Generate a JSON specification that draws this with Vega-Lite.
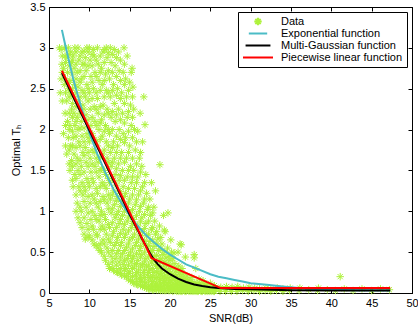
{
"$schema":"https://vega.github.io/schema/vega-lite/v6.json",
"width":363,"height":286,
"autosize":"none",
"padding":{"left":49,"top":7,"right":6,"bottom":34},
"background":"#ffffff",
"config":{
 "view":{"stroke":"#000","strokeWidth":1},
 "font":"Liberation Sans",
 "axis":{"domainColor":"#000","tickColor":"#000","labelColor":"#000","titleColor":"#000","labelFont":"Liberation Sans","titleFont":"Liberation Sans","labelFontSize":11,"titleFontSize":11,"titleFontWeight":"normal","tickSize":-4,"grid":false,"labelPadding":8,"labelFlush":false,"labelOverlap":false},
 "legend":{"orient":"top-right","offset":5,"strokeColor":"#000","fillColor":"#fff","padding":4,"labelFont":"Liberation Sans","labelFontSize":11,"labelColor":"#000","rowPadding":0,"symbolStrokeWidth":2,"labelOffset":7,"cornerRadius":0,"clipHeight":11}
},
"datasets":{
"pts":[
{"s":"Data","x":6.4,"y":2.45},{"s":"Data","x":6.5,"y":2.62},{"s":"Data","x":6.6,"y":2.8},{"s":"Data","x":6.5,"y":2.98},{"s":"Data","x":6.3,"y":3.0},
{"s":"Data","x":6.8,"y":1.95},{"s":"Data","x":7.0,"y":2.2},{"s":"Data","x":6.9,"y":2.55},{"s":"Data","x":6.8,"y":2.75},{"s":"Data","x":7.0,"y":2.9},{"s":"Data","x":6.9,"y":3.0},
{"s":"Data","x":7.2,"y":1.7},{"s":"Data","x":7.4,"y":1.9},{"s":"Data","x":7.3,"y":2.1},{"s":"Data","x":7.2,"y":2.35},{"s":"Data","x":7.4,"y":2.5},{"s":"Data","x":7.3,"y":2.7},{"s":"Data","x":7.2,"y":2.88},{"s":"Data","x":7.4,"y":3.0},
{"s":"Data","x":7.6,"y":1.5},{"s":"Data","x":7.8,"y":1.62},{"s":"Data","x":7.7,"y":1.8},{"s":"Data","x":7.6,"y":2.05},{"s":"Data","x":7.8,"y":2.25},{"s":"Data","x":7.7,"y":2.45},{"s":"Data","x":7.6,"y":2.6},{"s":"Data","x":7.8,"y":2.82},{"s":"Data","x":7.7,"y":2.95},
{"s":"Data","x":8.0,"y":1.3},{"s":"Data","x":8.2,"y":1.45},{"s":"Data","x":8.1,"y":1.7},{"s":"Data","x":8.0,"y":1.9},{"s":"Data","x":8.2,"y":2.05},{"s":"Data","x":8.1,"y":2.2},{"s":"Data","x":8.0,"y":2.4},{"s":"Data","x":8.2,"y":2.55},{"s":"Data","x":8.1,"y":2.75},{"s":"Data","x":8.0,"y":2.9},{"s":"Data","x":8.2,"y":3.0},
{"s":"Data","x":8.6,"y":0.92},{"s":"Data","x":8.5,"y":1.1},{"s":"Data","x":8.7,"y":1.3},{"s":"Data","x":8.6,"y":1.5},{"s":"Data","x":8.5,"y":1.65},{"s":"Data","x":8.7,"y":1.85},{"s":"Data","x":8.6,"y":2.0},{"s":"Data","x":8.5,"y":2.15},{"s":"Data","x":8.7,"y":2.35},{"s":"Data","x":8.6,"y":2.52},{"s":"Data","x":8.5,"y":2.7},{"s":"Data","x":8.7,"y":2.85},{"s":"Data","x":8.6,"y":3.0},
{"s":"Data","x":9.1,"y":0.8},{"s":"Data","x":9.0,"y":1.0},{"s":"Data","x":9.2,"y":1.2},{"s":"Data","x":9.1,"y":1.35},{"s":"Data","x":9.0,"y":1.55},{"s":"Data","x":9.2,"y":1.72},{"s":"Data","x":9.1,"y":1.92},{"s":"Data","x":9.0,"y":2.1},{"s":"Data","x":9.2,"y":2.3},{"s":"Data","x":9.1,"y":2.48},{"s":"Data","x":9.0,"y":2.62},{"s":"Data","x":9.2,"y":2.8},{"s":"Data","x":9.1,"y":2.95},
{"s":"Data","x":9.5,"y":0.66},{"s":"Data","x":9.7,"y":0.85},{"s":"Data","x":9.6,"y":1.05},{"s":"Data","x":9.5,"y":1.25},{"s":"Data","x":9.7,"y":1.4},{"s":"Data","x":9.6,"y":1.6},{"s":"Data","x":9.5,"y":1.78},{"s":"Data","x":9.7,"y":1.95},{"s":"Data","x":9.6,"y":2.18},{"s":"Data","x":9.5,"y":2.4},{"s":"Data","x":9.7,"y":2.55},{"s":"Data","x":9.6,"y":2.72},{"s":"Data","x":9.5,"y":2.88},{"s":"Data","x":9.7,"y":3.0},
{"s":"Data","x":10.0,"y":0.7},{"s":"Data","x":10.2,"y":0.9},{"s":"Data","x":10.1,"y":1.1},{"s":"Data","x":10.0,"y":1.3},{"s":"Data","x":10.2,"y":1.48},{"s":"Data","x":10.1,"y":1.65},{"s":"Data","x":10.0,"y":1.85},{"s":"Data","x":10.2,"y":2.05},{"s":"Data","x":10.1,"y":2.25},{"s":"Data","x":10.0,"y":2.45},{"s":"Data","x":10.2,"y":2.65},{"s":"Data","x":10.1,"y":2.85},{"s":"Data","x":10.0,"y":3.0},
{"s":"Data","x":10.6,"y":0.6},{"s":"Data","x":10.5,"y":0.78},{"s":"Data","x":10.7,"y":0.95},{"s":"Data","x":10.6,"y":1.15},{"s":"Data","x":10.5,"y":1.35},{"s":"Data","x":10.7,"y":1.55},{"s":"Data","x":10.6,"y":1.72},{"s":"Data","x":10.5,"y":1.9},{"s":"Data","x":10.7,"y":2.1},{"s":"Data","x":10.6,"y":2.28},{"s":"Data","x":10.5,"y":2.5},{"s":"Data","x":10.7,"y":2.7},{"s":"Data","x":10.6,"y":2.9},{"s":"Data","x":10.5,"y":2.98},
{"s":"Data","x":11.1,"y":0.55},{"s":"Data","x":11.0,"y":0.7},{"s":"Data","x":11.2,"y":0.88},{"s":"Data","x":11.1,"y":1.05},{"s":"Data","x":11.0,"y":1.22},{"s":"Data","x":11.2,"y":1.42},{"s":"Data","x":11.1,"y":1.6},{"s":"Data","x":11.0,"y":1.8},{"s":"Data","x":11.2,"y":2.0},{"s":"Data","x":11.1,"y":2.2},{"s":"Data","x":11.0,"y":2.38},{"s":"Data","x":11.2,"y":2.6},{"s":"Data","x":11.1,"y":2.8},{"s":"Data","x":11.0,"y":3.0},
{"s":"Data","x":11.5,"y":0.5},{"s":"Data","x":11.7,"y":0.65},{"s":"Data","x":11.6,"y":0.82},{"s":"Data","x":11.5,"y":1.0},{"s":"Data","x":11.7,"y":1.18},{"s":"Data","x":11.6,"y":1.35},{"s":"Data","x":11.5,"y":1.52},{"s":"Data","x":11.7,"y":1.7},{"s":"Data","x":11.6,"y":1.92},{"s":"Data","x":11.5,"y":2.12},{"s":"Data","x":11.7,"y":2.3},{"s":"Data","x":11.6,"y":2.55},{"s":"Data","x":11.5,"y":2.75},{"s":"Data","x":11.7,"y":2.95},
{"s":"Data","x":12.0,"y":0.4},{"s":"Data","x":12.2,"y":0.55},{"s":"Data","x":12.1,"y":0.72},{"s":"Data","x":12.0,"y":0.9},{"s":"Data","x":12.2,"y":1.1},{"s":"Data","x":12.1,"y":1.28},{"s":"Data","x":12.0,"y":1.45},{"s":"Data","x":12.2,"y":1.65},{"s":"Data","x":12.1,"y":1.85},{"s":"Data","x":12.0,"y":2.05},{"s":"Data","x":12.2,"y":2.25},{"s":"Data","x":12.1,"y":2.48},{"s":"Data","x":12.0,"y":2.68},{"s":"Data","x":12.2,"y":2.88},{"s":"Data","x":12.1,"y":3.0},
{"s":"Data","x":12.5,"y":0.3},{"s":"Data","x":12.7,"y":0.45},{"s":"Data","x":12.6,"y":0.62},{"s":"Data","x":12.5,"y":0.8},{"s":"Data","x":12.7,"y":0.98},{"s":"Data","x":12.6,"y":1.15},{"s":"Data","x":12.5,"y":1.35},{"s":"Data","x":12.7,"y":1.55},{"s":"Data","x":12.6,"y":1.72},{"s":"Data","x":12.5,"y":1.95},{"s":"Data","x":12.7,"y":2.15},{"s":"Data","x":12.6,"y":2.4},{"s":"Data","x":12.5,"y":2.62},{"s":"Data","x":12.7,"y":2.82},{"s":"Data","x":12.6,"y":3.0},
{"s":"Data","x":13.0,"y":0.28},{"s":"Data","x":13.2,"y":0.42},{"s":"Data","x":13.1,"y":0.58},{"s":"Data","x":13.0,"y":0.75},{"s":"Data","x":13.2,"y":0.92},{"s":"Data","x":13.1,"y":1.08},{"s":"Data","x":13.0,"y":1.25},{"s":"Data","x":13.2,"y":1.45},{"s":"Data","x":13.1,"y":1.65},{"s":"Data","x":13.0,"y":1.85},{"s":"Data","x":13.2,"y":2.1},{"s":"Data","x":13.1,"y":2.32},{"s":"Data","x":13.0,"y":2.55},{"s":"Data","x":13.2,"y":2.78},{"s":"Data","x":13.1,"y":2.98},
{"s":"Data","x":13.5,"y":0.25},{"s":"Data","x":13.7,"y":0.38},{"s":"Data","x":13.6,"y":0.52},{"s":"Data","x":13.5,"y":0.68},{"s":"Data","x":13.7,"y":0.85},{"s":"Data","x":13.6,"y":1.0},{"s":"Data","x":13.5,"y":1.18},{"s":"Data","x":13.7,"y":1.38},{"s":"Data","x":13.6,"y":1.58},{"s":"Data","x":13.5,"y":1.8},{"s":"Data","x":13.7,"y":2.0},{"s":"Data","x":13.6,"y":2.25},{"s":"Data","x":13.5,"y":2.5},{"s":"Data","x":13.7,"y":2.72},{"s":"Data","x":13.6,"y":2.95},
{"s":"Data","x":14.0,"y":0.22},{"s":"Data","x":14.2,"y":0.35},{"s":"Data","x":14.1,"y":0.48},{"s":"Data","x":14.0,"y":0.62},{"s":"Data","x":14.2,"y":0.78},{"s":"Data","x":14.1,"y":0.95},{"s":"Data","x":14.0,"y":1.12},{"s":"Data","x":14.2,"y":1.3},{"s":"Data","x":14.1,"y":1.5},{"s":"Data","x":14.0,"y":1.72},{"s":"Data","x":14.2,"y":1.95},{"s":"Data","x":14.1,"y":2.2},{"s":"Data","x":14.0,"y":2.45},{"s":"Data","x":14.2,"y":2.7},{"s":"Data","x":14.3,"y":3.0},
{"s":"Data","x":14.6,"y":0.2},{"s":"Data","x":14.5,"y":0.3},{"s":"Data","x":14.7,"y":0.42},{"s":"Data","x":14.6,"y":0.56},{"s":"Data","x":14.5,"y":0.72},{"s":"Data","x":14.7,"y":0.88},{"s":"Data","x":14.6,"y":1.05},{"s":"Data","x":14.5,"y":1.22},{"s":"Data","x":14.7,"y":1.42},{"s":"Data","x":14.6,"y":1.65},{"s":"Data","x":14.5,"y":1.9},{"s":"Data","x":14.7,"y":2.15},{"s":"Data","x":14.6,"y":2.4},{"s":"Data","x":14.5,"y":2.62},{"s":"Data","x":14.7,"y":2.9},
{"s":"Data","x":15.1,"y":0.15},{"s":"Data","x":15.0,"y":0.26},{"s":"Data","x":15.2,"y":0.38},{"s":"Data","x":15.1,"y":0.5},{"s":"Data","x":15.0,"y":0.65},{"s":"Data","x":15.2,"y":0.8},{"s":"Data","x":15.1,"y":0.98},{"s":"Data","x":15.0,"y":1.15},{"s":"Data","x":15.2,"y":1.35},{"s":"Data","x":15.1,"y":1.55},{"s":"Data","x":15.0,"y":1.8},{"s":"Data","x":15.2,"y":2.05},{"s":"Data","x":15.1,"y":2.3},{"s":"Data","x":15.0,"y":2.58},{"s":"Data","x":15.3,"y":2.75},
{"s":"Data","x":15.5,"y":0.12},{"s":"Data","x":15.7,"y":0.22},{"s":"Data","x":15.6,"y":0.33},{"s":"Data","x":15.5,"y":0.45},{"s":"Data","x":15.7,"y":0.58},{"s":"Data","x":15.6,"y":0.72},{"s":"Data","x":15.5,"y":0.9},{"s":"Data","x":15.7,"y":1.08},{"s":"Data","x":15.6,"y":1.28},{"s":"Data","x":15.5,"y":1.5},{"s":"Data","x":15.7,"y":1.75},{"s":"Data","x":15.6,"y":2.0},{"s":"Data","x":15.5,"y":2.25},{"s":"Data","x":15.4,"y":2.52},{"s":"Data","x":15.2,"y":2.7},
{"s":"Data","x":16.0,"y":0.1},{"s":"Data","x":16.2,"y":0.18},{"s":"Data","x":16.1,"y":0.28},{"s":"Data","x":16.0,"y":0.4},{"s":"Data","x":16.2,"y":0.52},{"s":"Data","x":16.1,"y":0.66},{"s":"Data","x":16.0,"y":0.82},{"s":"Data","x":16.2,"y":1.0},{"s":"Data","x":16.1,"y":1.2},{"s":"Data","x":16.0,"y":1.42},{"s":"Data","x":16.2,"y":1.65},{"s":"Data","x":16.0,"y":1.98},{"s":"Data","x":16.3,"y":2.2},
{"s":"Data","x":16.6,"y":0.08},{"s":"Data","x":16.5,"y":0.16},{"s":"Data","x":16.7,"y":0.25},{"s":"Data","x":16.6,"y":0.35},{"s":"Data","x":16.5,"y":0.47},{"s":"Data","x":16.7,"y":0.6},{"s":"Data","x":16.6,"y":0.75},{"s":"Data","x":16.5,"y":0.92},{"s":"Data","x":16.7,"y":1.1},{"s":"Data","x":16.6,"y":1.3},{"s":"Data","x":16.5,"y":1.55},{"s":"Data","x":16.6,"y":1.85},{"s":"Data","x":16.75,"y":2.4},
{"s":"Data","x":17.1,"y":0.06},{"s":"Data","x":17.0,"y":0.13},{"s":"Data","x":17.2,"y":0.22},{"s":"Data","x":17.1,"y":0.32},{"s":"Data","x":17.0,"y":0.42},{"s":"Data","x":17.2,"y":0.55},{"s":"Data","x":17.1,"y":0.7},{"s":"Data","x":17.0,"y":0.85},{"s":"Data","x":17.2,"y":1.02},{"s":"Data","x":17.1,"y":1.22},{"s":"Data","x":17.0,"y":1.45},{"s":"Data","x":16.9,"y":2.06},
{"s":"Data","x":17.5,"y":0.05},{"s":"Data","x":17.7,"y":0.11},{"s":"Data","x":17.6,"y":0.19},{"s":"Data","x":17.5,"y":0.28},{"s":"Data","x":17.7,"y":0.38},{"s":"Data","x":17.6,"y":0.5},{"s":"Data","x":17.5,"y":0.63},{"s":"Data","x":17.7,"y":0.78},{"s":"Data","x":17.6,"y":0.95},{"s":"Data","x":17.5,"y":1.15},{"s":"Data","x":17.7,"y":1.35},
{"s":"Data","x":18.0,"y":0.04},{"s":"Data","x":18.2,"y":0.1},{"s":"Data","x":18.1,"y":0.17},{"s":"Data","x":18.0,"y":0.25},{"s":"Data","x":18.2,"y":0.34},{"s":"Data","x":18.1,"y":0.45},{"s":"Data","x":18.0,"y":0.57},{"s":"Data","x":18.2,"y":0.72},{"s":"Data","x":18.1,"y":0.88},{"s":"Data","x":18.0,"y":1.05},{"s":"Data","x":18.2,"y":1.25},
{"s":"Data","x":18.6,"y":0.04},{"s":"Data","x":18.5,"y":0.09},{"s":"Data","x":18.7,"y":0.15},{"s":"Data","x":18.6,"y":0.22},{"s":"Data","x":18.5,"y":0.3},{"s":"Data","x":18.7,"y":0.4},{"s":"Data","x":18.6,"y":0.52},{"s":"Data","x":18.5,"y":0.66},{"s":"Data","x":18.7,"y":0.82},{"s":"Data","x":18.75,"y":1.57},
{"s":"Data","x":19.1,"y":0.03},{"s":"Data","x":19.0,"y":0.08},{"s":"Data","x":19.2,"y":0.13},{"s":"Data","x":19.1,"y":0.2},{"s":"Data","x":19.0,"y":0.27},{"s":"Data","x":19.2,"y":0.36},{"s":"Data","x":19.1,"y":0.47},{"s":"Data","x":19.0,"y":0.6},{"s":"Data","x":19.3,"y":0.77},{"s":"Data","x":19.2,"y":0.95},
{"s":"Data","x":19.5,"y":0.03},{"s":"Data","x":19.7,"y":0.07},{"s":"Data","x":19.6,"y":0.12},{"s":"Data","x":19.5,"y":0.18},{"s":"Data","x":19.7,"y":0.25},{"s":"Data","x":19.6,"y":0.33},{"s":"Data","x":19.5,"y":0.43},{"s":"Data","x":19.7,"y":0.55},{"s":"Data","x":19.4,"y":0.75},{"s":"Data","x":19.75,"y":0.98},
{"s":"Data","x":20.0,"y":0.03},{"s":"Data","x":20.2,"y":0.06},{"s":"Data","x":20.1,"y":0.1},{"s":"Data","x":20.0,"y":0.16},{"s":"Data","x":20.2,"y":0.22},{"s":"Data","x":20.1,"y":0.3},{"s":"Data","x":20.0,"y":0.4},{"s":"Data","x":20.2,"y":0.5},{"s":"Data","x":20.1,"y":0.65},
{"s":"Data","x":20.6,"y":0.03},{"s":"Data","x":20.5,"y":0.06},{"s":"Data","x":20.7,"y":0.1},{"s":"Data","x":20.6,"y":0.15},{"s":"Data","x":20.5,"y":0.2},{"s":"Data","x":20.7,"y":0.27},{"s":"Data","x":20.6,"y":0.36},{"s":"Data","x":20.5,"y":0.49},
{"s":"Data","x":21.1,"y":0.02},{"s":"Data","x":21.0,"y":0.05},{"s":"Data","x":21.2,"y":0.09},{"s":"Data","x":21.1,"y":0.13},{"s":"Data","x":21.0,"y":0.18},{"s":"Data","x":21.2,"y":0.25},{"s":"Data","x":21.1,"y":0.33},{"s":"Data","x":21.0,"y":0.5},{"s":"Data","x":21.25,"y":0.6},
{"s":"Data","x":21.5,"y":0.02},{"s":"Data","x":21.7,"y":0.05},{"s":"Data","x":21.6,"y":0.08},{"s":"Data","x":21.5,"y":0.12},{"s":"Data","x":21.7,"y":0.17},{"s":"Data","x":21.6,"y":0.23},{"s":"Data","x":21.5,"y":0.3},{"s":"Data","x":21.4,"y":0.59},
{"s":"Data","x":22.0,"y":0.02},{"s":"Data","x":22.2,"y":0.05},{"s":"Data","x":22.1,"y":0.08},{"s":"Data","x":22.0,"y":0.11},{"s":"Data","x":22.2,"y":0.15},{"s":"Data","x":22.1,"y":0.21},{"s":"Data","x":21.9,"y":0.44},
{"s":"Data","x":22.6,"y":0.02},{"s":"Data","x":22.5,"y":0.04},{"s":"Data","x":22.7,"y":0.07},{"s":"Data","x":22.6,"y":0.1},{"s":"Data","x":22.5,"y":0.14},{"s":"Data","x":22.7,"y":0.19},
{"s":"Data","x":23.1,"y":0.02},{"s":"Data","x":23.0,"y":0.04},{"s":"Data","x":23.2,"y":0.07},{"s":"Data","x":23.1,"y":0.1},{"s":"Data","x":23.0,"y":0.13},{"s":"Data","x":23.0,"y":0.47},{"s":"Data","x":23.0,"y":0.43},{"s":"Data","x":23.2,"y":0.3},
{"s":"Data","x":23.5,"y":0.02},{"s":"Data","x":23.7,"y":0.04},{"s":"Data","x":23.6,"y":0.06},{"s":"Data","x":23.5,"y":0.09},{"s":"Data","x":23.7,"y":0.12},{"s":"Data","x":23.6,"y":0.17},
{"s":"Data","x":24.0,"y":0.02},{"s":"Data","x":24.2,"y":0.04},{"s":"Data","x":24.1,"y":0.06},{"s":"Data","x":24.0,"y":0.08},{"s":"Data","x":24.2,"y":0.11},{"s":"Data","x":24.1,"y":0.15},
{"s":"Data","x":24.6,"y":0.02},{"s":"Data","x":24.5,"y":0.04},{"s":"Data","x":24.7,"y":0.06},{"s":"Data","x":24.6,"y":0.08},{"s":"Data","x":24.5,"y":0.1},
{"s":"Data","x":25.1,"y":0.02},{"s":"Data","x":25.0,"y":0.04},{"s":"Data","x":25.2,"y":0.06},{"s":"Data","x":25.1,"y":0.08},{"s":"Data","x":25.0,"y":0.12},
{"s":"Data","x":25.5,"y":0.02},{"s":"Data","x":25.7,"y":0.04},{"s":"Data","x":25.6,"y":0.06},{"s":"Data","x":25.5,"y":0.09},
{"s":"Data","x":26.2,"y":0.02},{"s":"Data","x":26.2,"y":0.05},{"s":"Data","x":26.3,"y":0.07},
{"s":"Data","x":26.9,"y":0.02},{"s":"Data","x":26.9,"y":0.05},{"s":"Data","x":27.0,"y":0.08},
{"s":"Data","x":27.6,"y":0.02},{"s":"Data","x":27.6,"y":0.05},{"s":"Data","x":27.7,"y":0.07},
{"s":"Data","x":28.3,"y":0.02},{"s":"Data","x":28.3,"y":0.05},{"s":"Data","x":28.4,"y":0.08},
{"s":"Data","x":29.0,"y":0.03},{"s":"Data","x":29.1,"y":0.06},
{"s":"Data","x":29.7,"y":0.02},{"s":"Data","x":29.7,"y":0.05},{"s":"Data","x":29.8,"y":0.07},
{"s":"Data","x":30.4,"y":0.03},{"s":"Data","x":30.5,"y":0.06},
{"s":"Data","x":31.1,"y":0.02},{"s":"Data","x":31.1,"y":0.05},
{"s":"Data","x":31.8,"y":0.03},{"s":"Data","x":31.9,"y":0.06},
{"s":"Data","x":32.5,"y":0.02},{"s":"Data","x":32.5,"y":0.05},
{"s":"Data","x":33.2,"y":0.03},{"s":"Data","x":33.3,"y":0.06},
{"s":"Data","x":34.0,"y":0.02},{"s":"Data","x":34.0,"y":0.05},
{"s":"Data","x":34.8,"y":0.03},{"s":"Data","x":34.9,"y":0.06},
{"s":"Data","x":36.0,"y":0.03},{"s":"Data","x":36.1,"y":0.06},{"s":"Data","x":37.2,"y":0.04},{"s":"Data","x":38.3,"y":0.03},{"s":"Data","x":38.4,"y":0.06},{"s":"Data","x":39.5,"y":0.04},{"s":"Data","x":40.5,"y":0.03},{"s":"Data","x":41.1,"y":0.2},{"s":"Data","x":41.6,"y":0.05},{"s":"Data","x":42.7,"y":0.03},{"s":"Data","x":43.8,"y":0.05},{"s":"Data","x":45.0,"y":0.03},{"s":"Data","x":46.1,"y":0.05},{"s":"Data","x":47.2,"y":0.04},
{"s":"Data","x":6.65,"y":2.35},{"s":"Data","x":6.65,"y":2.7},{"s":"Data","x":6.65,"y":2.9},
{"s":"Data","x":7.05,"y":1.8},{"s":"Data","x":7.05,"y":2.05},{"s":"Data","x":7.05,"y":2.45},{"s":"Data","x":7.05,"y":2.62},{"s":"Data","x":7.05,"y":2.82},
{"s":"Data","x":7.5,"y":1.58},{"s":"Data","x":7.5,"y":1.75},{"s":"Data","x":7.5,"y":2.0},{"s":"Data","x":7.5,"y":2.2},{"s":"Data","x":7.5,"y":2.4},{"s":"Data","x":7.5,"y":2.58},{"s":"Data","x":7.5,"y":2.78},{"s":"Data","x":7.5,"y":2.92},
{"s":"Data","x":7.9,"y":1.38},{"s":"Data","x":7.9,"y":1.55},{"s":"Data","x":7.9,"y":1.8},{"s":"Data","x":7.9,"y":1.98},{"s":"Data","x":7.9,"y":2.15},{"s":"Data","x":7.9,"y":2.32},{"s":"Data","x":7.9,"y":2.5},{"s":"Data","x":7.9,"y":2.68},{"s":"Data","x":7.9,"y":2.85},
{"s":"Data","x":8.35,"y":1.0},{"s":"Data","x":8.35,"y":1.2},{"s":"Data","x":8.35,"y":1.4},{"s":"Data","x":8.35,"y":1.58},{"s":"Data","x":8.35,"y":1.78},{"s":"Data","x":8.35,"y":1.92},{"s":"Data","x":8.35,"y":2.1},{"s":"Data","x":8.35,"y":2.28},{"s":"Data","x":8.35,"y":2.45},{"s":"Data","x":8.35,"y":2.62},{"s":"Data","x":8.35,"y":2.8},{"s":"Data","x":8.35,"y":2.95},
{"s":"Data","x":8.85,"y":0.86},{"s":"Data","x":8.85,"y":1.05},{"s":"Data","x":8.85,"y":1.25},{"s":"Data","x":8.85,"y":1.45},{"s":"Data","x":8.85,"y":1.62},{"s":"Data","x":8.85,"y":1.8},{"s":"Data","x":8.85,"y":2.02},{"s":"Data","x":8.85,"y":2.2},{"s":"Data","x":8.85,"y":2.4},{"s":"Data","x":8.85,"y":2.58},{"s":"Data","x":8.85,"y":2.72},{"s":"Data","x":8.85,"y":2.9},
{"s":"Data","x":9.35,"y":0.72},{"s":"Data","x":9.35,"y":0.92},{"s":"Data","x":9.35,"y":1.12},{"s":"Data","x":9.35,"y":1.3},{"s":"Data","x":9.35,"y":1.48},{"s":"Data","x":9.35,"y":1.68},{"s":"Data","x":9.35,"y":1.85},{"s":"Data","x":9.35,"y":2.02},{"s":"Data","x":9.35,"y":2.25},{"s":"Data","x":9.35,"y":2.45},{"s":"Data","x":9.35,"y":2.65},{"s":"Data","x":9.35,"y":2.8},{"s":"Data","x":9.35,"y":2.96},
{"s":"Data","x":9.85,"y":0.68},{"s":"Data","x":9.85,"y":0.78},{"s":"Data","x":9.85,"y":0.98},{"s":"Data","x":9.85,"y":1.18},{"s":"Data","x":9.85,"y":1.35},{"s":"Data","x":9.85,"y":1.55},{"s":"Data","x":9.85,"y":1.72},{"s":"Data","x":9.85,"y":1.9},{"s":"Data","x":9.85,"y":2.12},{"s":"Data","x":9.85,"y":2.35},{"s":"Data","x":9.85,"y":2.5},{"s":"Data","x":9.85,"y":2.78},{"s":"Data","x":9.85,"y":2.95},
{"s":"Data","x":10.35,"y":0.65},{"s":"Data","x":10.35,"y":0.82},{"s":"Data","x":10.35,"y":1.0},{"s":"Data","x":10.35,"y":1.2},{"s":"Data","x":10.35,"y":1.4},{"s":"Data","x":10.35,"y":1.58},{"s":"Data","x":10.35,"y":1.75},{"s":"Data","x":10.35,"y":1.95},{"s":"Data","x":10.35,"y":2.15},{"s":"Data","x":10.35,"y":2.38},{"s":"Data","x":10.35,"y":2.58},{"s":"Data","x":10.35,"y":2.78},{"s":"Data","x":10.35,"y":2.92},
{"s":"Data","x":10.85,"y":0.58},{"s":"Data","x":10.85,"y":0.72},{"s":"Data","x":10.85,"y":0.9},{"s":"Data","x":10.85,"y":1.1},{"s":"Data","x":10.85,"y":1.28},{"s":"Data","x":10.85,"y":1.48},{"s":"Data","x":10.85,"y":1.65},{"s":"Data","x":10.85,"y":1.85},{"s":"Data","x":10.85,"y":2.05},{"s":"Data","x":10.85,"y":2.25},{"s":"Data","x":10.85,"y":2.45},{"s":"Data","x":10.85,"y":2.65},{"s":"Data","x":10.85,"y":2.85},
{"s":"Data","x":11.35,"y":0.52},{"s":"Data","x":11.35,"y":0.6},{"s":"Data","x":11.35,"y":0.78},{"s":"Data","x":11.35,"y":0.95},{"s":"Data","x":11.35,"y":1.12},{"s":"Data","x":11.35,"y":1.3},{"s":"Data","x":11.35,"y":1.5},{"s":"Data","x":11.35,"y":1.66},{"s":"Data","x":11.35,"y":1.88},{"s":"Data","x":11.35,"y":2.08},{"s":"Data","x":11.35,"y":2.28},{"s":"Data","x":11.35,"y":2.48},{"s":"Data","x":11.35,"y":2.7},{"s":"Data","x":11.35,"y":2.9},
{"s":"Data","x":11.85,"y":0.45},{"s":"Data","x":11.85,"y":0.6},{"s":"Data","x":11.85,"y":0.78},{"s":"Data","x":11.85,"y":0.96},{"s":"Data","x":11.85,"y":1.14},{"s":"Data","x":11.85,"y":1.32},{"s":"Data","x":11.85,"y":1.5},{"s":"Data","x":11.85,"y":1.75},{"s":"Data","x":11.85,"y":1.98},{"s":"Data","x":11.85,"y":2.18},{"s":"Data","x":11.85,"y":2.4},{"s":"Data","x":11.85,"y":2.6},{"s":"Data","x":11.85,"y":2.82},{"s":"Data","x":11.85,"y":2.98},
{"s":"Data","x":12.35,"y":0.35},{"s":"Data","x":12.35,"y":0.5},{"s":"Data","x":12.35,"y":0.66},{"s":"Data","x":12.35,"y":0.84},{"s":"Data","x":12.35,"y":1.03},{"s":"Data","x":12.35,"y":1.2},{"s":"Data","x":12.35,"y":1.4},{"s":"Data","x":12.35,"y":1.6},{"s":"Data","x":12.35,"y":1.8},{"s":"Data","x":12.35,"y":2.0},{"s":"Data","x":12.35,"y":2.2},{"s":"Data","x":12.35,"y":2.45},{"s":"Data","x":12.35,"y":2.72},{"s":"Data","x":12.35,"y":2.94},
{"s":"Data","x":12.85,"y":0.3},{"s":"Data","x":12.85,"y":0.38},{"s":"Data","x":12.85,"y":0.52},{"s":"Data","x":12.85,"y":0.7},{"s":"Data","x":12.85,"y":0.86},{"s":"Data","x":12.85,"y":1.03},{"s":"Data","x":12.85,"y":1.2},{"s":"Data","x":12.85,"y":1.4},{"s":"Data","x":12.85,"y":1.6},{"s":"Data","x":12.85,"y":1.78},{"s":"Data","x":12.85,"y":2.0},{"s":"Data","x":12.85,"y":2.22},{"s":"Data","x":12.85,"y":2.48},{"s":"Data","x":12.85,"y":2.7},{"s":"Data","x":12.85,"y":2.92},
{"s":"Data","x":13.35,"y":0.26},{"s":"Data","x":13.35,"y":0.34},{"s":"Data","x":13.35,"y":0.48},{"s":"Data","x":13.35,"y":0.62},{"s":"Data","x":13.35,"y":0.8},{"s":"Data","x":13.35,"y":0.96},{"s":"Data","x":13.35,"y":1.13},{"s":"Data","x":13.35,"y":1.32},{"s":"Data","x":13.35,"y":1.52},{"s":"Data","x":13.35,"y":1.72},{"s":"Data","x":13.35,"y":1.92},{"s":"Data","x":13.35,"y":2.18},{"s":"Data","x":13.35,"y":2.42},{"s":"Data","x":13.35,"y":2.65},{"s":"Data","x":13.35,"y":2.88},
{"s":"Data","x":13.85,"y":0.24},{"s":"Data","x":13.85,"y":0.3},{"s":"Data","x":13.85,"y":0.44},{"s":"Data","x":13.85,"y":0.58},{"s":"Data","x":13.85,"y":0.73},{"s":"Data","x":13.85,"y":0.9},{"s":"Data","x":13.85,"y":1.06},{"s":"Data","x":13.85,"y":1.24},{"s":"Data","x":13.85,"y":1.44},{"s":"Data","x":13.85,"y":1.65},{"s":"Data","x":13.85,"y":1.88},{"s":"Data","x":13.85,"y":2.12},{"s":"Data","x":13.85,"y":2.38},{"s":"Data","x":13.85,"y":2.6},{"s":"Data","x":13.85,"y":2.85},
{"s":"Data","x":14.35,"y":0.21},{"s":"Data","x":14.35,"y":0.28},{"s":"Data","x":14.35,"y":0.4},{"s":"Data","x":14.35,"y":0.52},{"s":"Data","x":14.35,"y":0.68},{"s":"Data","x":14.35,"y":0.84},{"s":"Data","x":14.35,"y":1.0},{"s":"Data","x":14.35,"y":1.18},{"s":"Data","x":14.35,"y":1.38},{"s":"Data","x":14.35,"y":1.6},{"s":"Data","x":14.35,"y":1.84},{"s":"Data","x":14.35,"y":2.08},{"s":"Data","x":14.35,"y":2.32},{"s":"Data","x":14.35,"y":2.55},{"s":"Data","x":14.35,"y":2.8},
{"s":"Data","x":14.85,"y":0.17},{"s":"Data","x":14.85,"y":0.24},{"s":"Data","x":14.85,"y":0.34},{"s":"Data","x":14.85,"y":0.46},{"s":"Data","x":14.85,"y":0.6},{"s":"Data","x":14.85,"y":0.76},{"s":"Data","x":14.85,"y":0.93},{"s":"Data","x":14.85,"y":1.1},{"s":"Data","x":14.85,"y":1.28},{"s":"Data","x":14.85,"y":1.5},{"s":"Data","x":14.85,"y":1.72},{"s":"Data","x":14.85,"y":1.98},{"s":"Data","x":14.85,"y":2.22},{"s":"Data","x":14.85,"y":2.48},
{"s":"Data","x":15.35,"y":0.14},{"s":"Data","x":15.35,"y":0.2},{"s":"Data","x":15.35,"y":0.3},{"s":"Data","x":15.35,"y":0.42},{"s":"Data","x":15.35,"y":0.54},{"s":"Data","x":15.35,"y":0.68},{"s":"Data","x":15.35,"y":0.85},{"s":"Data","x":15.35,"y":1.02},{"s":"Data","x":15.35,"y":1.2},{"s":"Data","x":15.35,"y":1.42},{"s":"Data","x":15.35,"y":1.65},{"s":"Data","x":15.35,"y":1.9},{"s":"Data","x":15.35,"y":2.15},{"s":"Data","x":15.35,"y":2.4},
{"s":"Data","x":15.85,"y":0.11},{"s":"Data","x":15.85,"y":0.16},{"s":"Data","x":15.85,"y":0.25},{"s":"Data","x":15.85,"y":0.36},{"s":"Data","x":15.85,"y":0.48},{"s":"Data","x":15.85,"y":0.62},{"s":"Data","x":15.85,"y":0.78},{"s":"Data","x":15.85,"y":0.95},{"s":"Data","x":15.85,"y":1.14},{"s":"Data","x":15.85,"y":1.35},{"s":"Data","x":15.85,"y":1.58},{"s":"Data","x":15.85,"y":1.85},
{"s":"Data","x":16.35,"y":0.09},{"s":"Data","x":16.35,"y":0.14},{"s":"Data","x":16.35,"y":0.22},{"s":"Data","x":16.35,"y":0.32},{"s":"Data","x":16.35,"y":0.44},{"s":"Data","x":16.35,"y":0.57},{"s":"Data","x":16.35,"y":0.7},{"s":"Data","x":16.35,"y":0.87},{"s":"Data","x":16.35,"y":1.06},{"s":"Data","x":16.35,"y":1.25},{"s":"Data","x":16.35,"y":1.48},{"s":"Data","x":16.35,"y":1.72},
{"s":"Data","x":16.85,"y":0.07},{"s":"Data","x":16.85,"y":0.11},{"s":"Data","x":16.85,"y":0.19},{"s":"Data","x":16.85,"y":0.28},{"s":"Data","x":16.85,"y":0.38},{"s":"Data","x":16.85,"y":0.5},{"s":"Data","x":16.85,"y":0.64},{"s":"Data","x":16.85,"y":0.79},{"s":"Data","x":16.85,"y":0.96},{"s":"Data","x":16.85,"y":1.15},{"s":"Data","x":16.85,"y":1.35},
{"s":"Data","x":17.35,"y":0.05},{"s":"Data","x":17.35,"y":0.09},{"s":"Data","x":17.35,"y":0.16},{"s":"Data","x":17.35,"y":0.25},{"s":"Data","x":17.35,"y":0.34},{"s":"Data","x":17.35,"y":0.45},{"s":"Data","x":17.35,"y":0.58},{"s":"Data","x":17.35,"y":0.72},{"s":"Data","x":17.35,"y":0.88},{"s":"Data","x":17.35,"y":1.05},
{"s":"Data","x":17.85,"y":0.04},{"s":"Data","x":17.85,"y":0.08},{"s":"Data","x":17.85,"y":0.14},{"s":"Data","x":17.85,"y":0.21},{"s":"Data","x":17.85,"y":0.3},{"s":"Data","x":17.85,"y":0.4},{"s":"Data","x":17.85,"y":0.52},{"s":"Data","x":17.85,"y":0.65},{"s":"Data","x":17.85,"y":0.8},{"s":"Data","x":17.85,"y":0.98},
{"s":"Data","x":18.35,"y":0.04},{"s":"Data","x":18.35,"y":0.07},{"s":"Data","x":18.35,"y":0.12},{"s":"Data","x":18.35,"y":0.19},{"s":"Data","x":18.35,"y":0.26},{"s":"Data","x":18.35,"y":0.35},{"s":"Data","x":18.35,"y":0.46},{"s":"Data","x":18.35,"y":0.6},{"s":"Data","x":18.35,"y":0.75},
{"s":"Data","x":18.85,"y":0.03},{"s":"Data","x":18.85,"y":0.06},{"s":"Data","x":18.85,"y":0.11},{"s":"Data","x":18.85,"y":0.17},{"s":"Data","x":18.85,"y":0.24},{"s":"Data","x":18.85,"y":0.32},{"s":"Data","x":18.85,"y":0.42},{"s":"Data","x":18.85,"y":0.54},{"s":"Data","x":18.85,"y":0.68},
{"s":"Data","x":19.35,"y":0.03},{"s":"Data","x":19.35,"y":0.05},{"s":"Data","x":19.35,"y":0.1},{"s":"Data","x":19.35,"y":0.15},{"s":"Data","x":19.35,"y":0.22},{"s":"Data","x":19.35,"y":0.29},{"s":"Data","x":19.35,"y":0.38},{"s":"Data","x":19.35,"y":0.5},
{"s":"Data","x":19.85,"y":0.03},{"s":"Data","x":19.85,"y":0.05},{"s":"Data","x":19.85,"y":0.09},{"s":"Data","x":19.85,"y":0.13},{"s":"Data","x":19.85,"y":0.19},{"s":"Data","x":19.85,"y":0.26},{"s":"Data","x":19.85,"y":0.35},{"s":"Data","x":19.85,"y":0.45},
{"s":"Data","x":20.35,"y":0.02},{"s":"Data","x":20.35,"y":0.05},{"s":"Data","x":20.35,"y":0.08},{"s":"Data","x":20.35,"y":0.12},{"s":"Data","x":20.35,"y":0.17},{"s":"Data","x":20.35,"y":0.23},{"s":"Data","x":20.35,"y":0.32},{"s":"Data","x":20.35,"y":0.42},
{"s":"Data","x":20.85,"y":0.02},{"s":"Data","x":20.85,"y":0.04},{"s":"Data","x":20.85,"y":0.07},{"s":"Data","x":20.85,"y":0.11},{"s":"Data","x":20.85,"y":0.16},{"s":"Data","x":20.85,"y":0.22},{"s":"Data","x":20.85,"y":0.29},
{"s":"Data","x":21.35,"y":0.02},{"s":"Data","x":21.35,"y":0.04},{"s":"Data","x":21.35,"y":0.07},{"s":"Data","x":21.35,"y":0.1},{"s":"Data","x":21.35,"y":0.14},{"s":"Data","x":21.35,"y":0.2},{"s":"Data","x":21.35,"y":0.27},
{"s":"Data","x":21.85,"y":0.02},{"s":"Data","x":21.85,"y":0.04},{"s":"Data","x":21.85,"y":0.06},{"s":"Data","x":21.85,"y":0.09},{"s":"Data","x":21.85,"y":0.13},{"s":"Data","x":21.85,"y":0.18},
{"s":"Data","x":22.35,"y":0.02},{"s":"Data","x":22.35,"y":0.04},{"s":"Data","x":22.35,"y":0.06},{"s":"Data","x":22.35,"y":0.09},{"s":"Data","x":22.35,"y":0.12},{"s":"Data","x":22.35,"y":0.16},
{"s":"Data","x":22.85,"y":0.02},{"s":"Data","x":22.85,"y":0.03},{"s":"Data","x":22.85,"y":0.05},{"s":"Data","x":22.85,"y":0.08},{"s":"Data","x":22.85,"y":0.11},
{"s":"Data","x":23.35,"y":0.02},{"s":"Data","x":23.35,"y":0.03},{"s":"Data","x":23.35,"y":0.05},{"s":"Data","x":23.35,"y":0.08},{"s":"Data","x":23.35,"y":0.11},
{"s":"Data","x":23.85,"y":0.02},{"s":"Data","x":23.85,"y":0.03},{"s":"Data","x":23.85,"y":0.05},{"s":"Data","x":23.85,"y":0.07},
{"s":"Data","x":24.35,"y":0.02},{"s":"Data","x":24.35,"y":0.03},{"s":"Data","x":24.35,"y":0.05},{"s":"Data","x":24.35,"y":0.07},
{"s":"Data","x":24.85,"y":0.02},{"s":"Data","x":24.85,"y":0.04},{"s":"Data","x":24.85,"y":0.06},
{"s":"Data","x":25.35,"y":0.02},{"s":"Data","x":25.35,"y":0.04},{"s":"Data","x":25.35,"y":0.06}
],
"lines":[
{"s":"Exponential function","x":6.6,"y":3.22},{"s":"Exponential function","x":7,"y":3.04},{"s":"Exponential function","x":8,"y":2.62},{"s":"Exponential function","x":9,"y":2.27},{"s":"Exponential function","x":10,"y":1.96},{"s":"Exponential function","x":11,"y":1.7},{"s":"Exponential function","x":12,"y":1.47},{"s":"Exponential function","x":13,"y":1.27},{"s":"Exponential function","x":14,"y":1.1},{"s":"Exponential function","x":15,"y":0.95},{"s":"Exponential function","x":16,"y":0.82},{"s":"Exponential function","x":17,"y":0.71},{"s":"Exponential function","x":18,"y":0.62},{"s":"Exponential function","x":19,"y":0.54},{"s":"Exponential function","x":20,"y":0.47},{"s":"Exponential function","x":21,"y":0.41},{"s":"Exponential function","x":22,"y":0.35},{"s":"Exponential function","x":23,"y":0.31},{"s":"Exponential function","x":24,"y":0.27},{"s":"Exponential function","x":25,"y":0.23},{"s":"Exponential function","x":26,"y":0.2},{"s":"Exponential function","x":27,"y":0.18},{"s":"Exponential function","x":28,"y":0.16},{"s":"Exponential function","x":29,"y":0.14},{"s":"Exponential function","x":30,"y":0.12},{"s":"Exponential function","x":32,"y":0.1},{"s":"Exponential function","x":34,"y":0.08},{"s":"Exponential function","x":36,"y":0.06},{"s":"Exponential function","x":38,"y":0.05},{"s":"Exponential function","x":40,"y":0.04},{"s":"Exponential function","x":43,"y":0.035},{"s":"Exponential function","x":47.3,"y":0.03},
{"s":"Multi-Gaussian function","x":6.6,"y":2.69},{"s":"Multi-Gaussian function","x":8,"y":2.4},{"s":"Multi-Gaussian function","x":10,"y":1.99},{"s":"Multi-Gaussian function","x":12,"y":1.58},{"s":"Multi-Gaussian function","x":14,"y":1.17},{"s":"Multi-Gaussian function","x":15,"y":0.96},{"s":"Multi-Gaussian function","x":16,"y":0.77},{"s":"Multi-Gaussian function","x":16.5,"y":0.67},{"s":"Multi-Gaussian function","x":17,"y":0.58},{"s":"Multi-Gaussian function","x":17.5,"y":0.49},{"s":"Multi-Gaussian function","x":18,"y":0.41},{"s":"Multi-Gaussian function","x":18.5,"y":0.35},{"s":"Multi-Gaussian function","x":19,"y":0.3},{"s":"Multi-Gaussian function","x":20,"y":0.23},{"s":"Multi-Gaussian function","x":21,"y":0.175},{"s":"Multi-Gaussian function","x":22,"y":0.135},{"s":"Multi-Gaussian function","x":23,"y":0.105},{"s":"Multi-Gaussian function","x":24,"y":0.085},{"s":"Multi-Gaussian function","x":25,"y":0.07},{"s":"Multi-Gaussian function","x":26,"y":0.06},{"s":"Multi-Gaussian function","x":28,"y":0.05},{"s":"Multi-Gaussian function","x":30,"y":0.045},{"s":"Multi-Gaussian function","x":35,"y":0.035},{"s":"Multi-Gaussian function","x":40,"y":0.03},{"s":"Multi-Gaussian function","x":47.3,"y":0.03},
{"s":"Piecewise linear function","x":6.6,"y":2.72},{"s":"Piecewise linear function","x":17.7,"y":0.43},{"s":"Piecewise linear function","x":26.3,"y":0.06},{"s":"Piecewise linear function","x":47.3,"y":0.06}
]
},
"layer":[
{"data":{"name":"pts"},
 "mark":{"type":"point","filled":false,"strokeWidth":1,"opacity":1},
 "encoding":{
  "x":{"field":"x","type":"quantitative","scale":{"domain":[5,50],"nice":false,"zero":false},"axis":{"orient":"bottom","title":"SNR(dB)","values":[5,10,15,20,25,30,35,40,45,50],"format":"~g","titlePadding":4}},
  "y":{"field":"y","type":"quantitative","scale":{"domain":[0,3.5],"nice":false},"axis":{"orient":"left","title":"Optimal Tₕ","values":[0,0.5,1,1.5,2,2.5,3,3.5],"format":"~g","titlePadding":8}},
  "color":{"field":"s","type":"nominal","scale":{"domain":["Data","Exponential function","Multi-Gaussian function","Piecewise linear function"],"range":["#aef23c","#4bbcc6","#000000","#ff0000"]},"legend":{"title":null,"clipHeight":11,"encode":{"symbols":{"update":{"strokeWidth":{"signal":"datum.value==='Data'?1:2"}}}}}},
  "shape":{"field":"s","type":"nominal","scale":{"domain":["Data","Exponential function","Multi-Gaussian function","Piecewise linear function"],"range":["M-1,0L1,0M0,-1L0,1M-0.7,-0.7L0.7,0.7M-0.7,0.7L0.7,-0.7","stroke","stroke","stroke"]},"legend":{"title":null,"clipHeight":11}},
  "size":{"field":"s","type":"nominal","scale":{"domain":["Data","Exponential function","Multi-Gaussian function","Piecewise linear function"],"range":[56,900,900,900]},"legend":{"title":null,"clipHeight":11}}
 }},
{"data":{"name":"lines"},
 "mark":{"type":"line","strokeWidth":2},
 "encoding":{
  "x":{"field":"x","type":"quantitative","scale":{"domain":[5,50],"nice":false,"zero":false},"axis":{"orient":"top","title":null,"labels":false,"values":[5,10,15,20,25,30,35,40,45,50]}},
  "y":{"field":"y","type":"quantitative","scale":{"domain":[0,3.5],"nice":false},"axis":{"orient":"right","title":null,"labels":false,"values":[0,0.5,1,1.5,2,2.5,3,3.5]}},
  "color":{"field":"s","type":"nominal","legend":{"title":null,"clipHeight":11}}
 }}
],
"resolve":{"axis":{"x":"independent","y":"independent"}}
}
